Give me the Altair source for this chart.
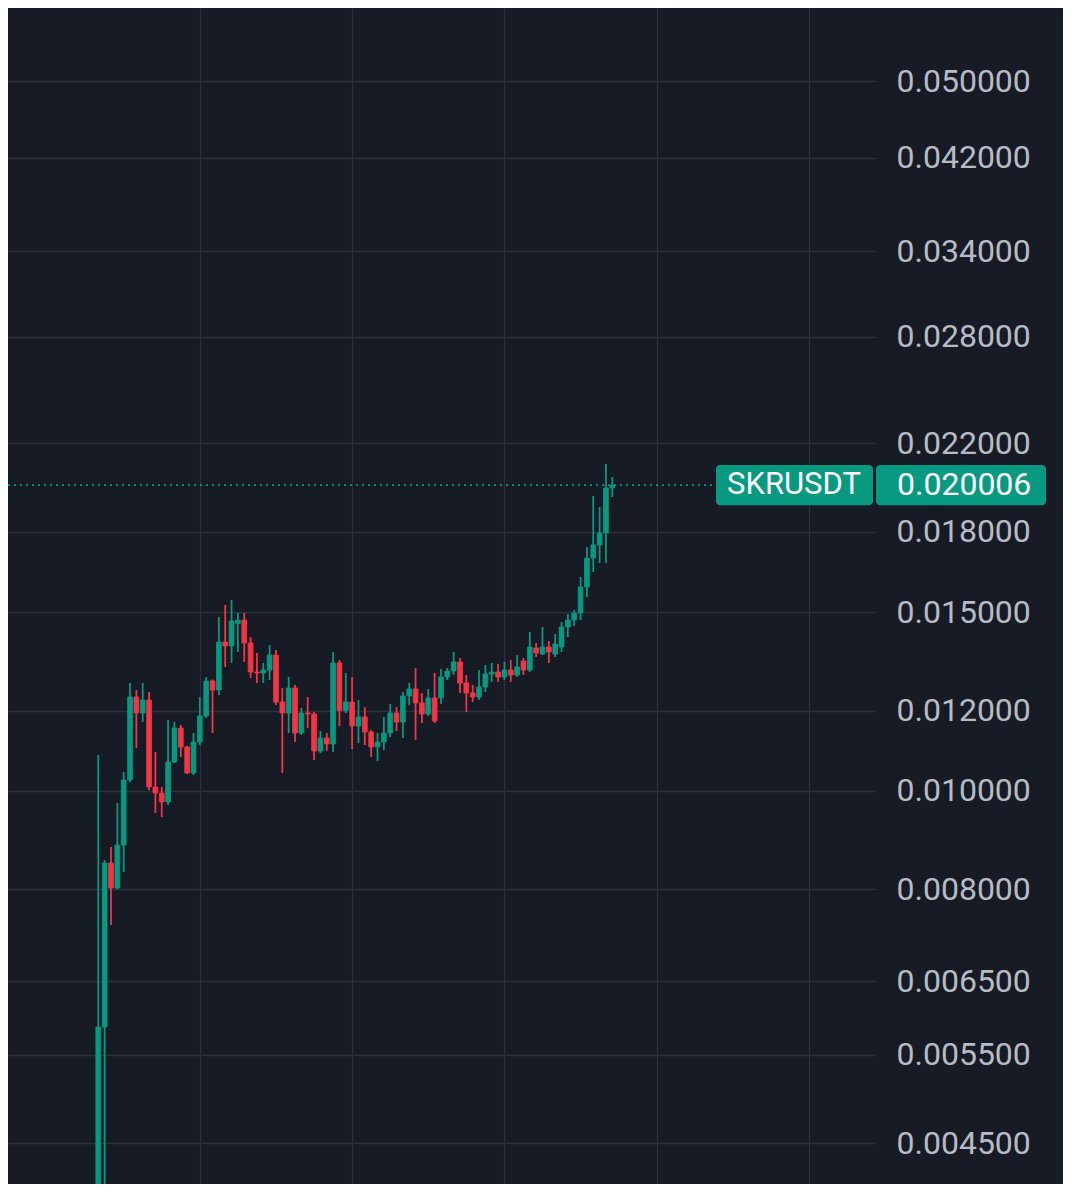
import altair as alt
import pandas as pd

# ---- data ----
symbol = "SKRUSDT"

opens = [
    0.0036, 0.005856, 0.008494, 0.008026, 0.008848, 0.010253, 0.012375, 0.011934, 0.012291, 0.010091,
    0.009955, 0.009754, 0.010679, 0.011535, 0.011049, 0.010416, 0.011175, 0.011853, 0.012832, 0.012573,
    0.014018, 0.013892, 0.01462, 0.01473, 0.013987, 0.013097, 0.013067, 0.013156, 0.013611, 0.012236,
    0.011934, 0.01263, 0.011405, 0.011934, 0.011907, 0.010949, 0.011277, 0.011124, 0.013367, 0.0120,
    0.012236, 0.011588, 0.011827, 0.011431, 0.011049, 0.011175, 0.011405, 0.011934, 0.011693, 0.012403,
    0.012601, 0.012208, 0.011907, 0.012347, 0.01235, 0.012949, 0.013126, 0.013398, 0.012774, 0.012488,
    0.012375, 0.012659, 0.013037, 0.013097, 0.012949, 0.013156, 0.013008, 0.013428, 0.013156, 0.013829,
    0.013642, 0.01386, 0.013642, 0.01386, 0.014503, 0.014735, 0.014971, 0.01588, 0.01696, 0.017468,
    0.017949, 0.019876,
]
closes = [
    0.005856, 0.008494, 0.008026, 0.008848, 0.010253, 0.012375, 0.011934, 0.012291, 0.010091, 0.009955,
    0.009754, 0.010679, 0.011535, 0.011049, 0.010416, 0.011175, 0.011853, 0.012832, 0.012573, 0.014018,
    0.013892, 0.014702, 0.01473, 0.013987, 0.013097, 0.013067, 0.013156, 0.013611, 0.012236, 0.011934,
    0.01263, 0.011405, 0.011934, 0.011907, 0.010949, 0.011277, 0.011124, 0.013367, 0.0120, 0.012236,
    0.011588, 0.011827, 0.011431, 0.011049, 0.011175, 0.011405, 0.011934, 0.011693, 0.012403, 0.012601,
    0.012208, 0.011907, 0.012347, 0.01172, 0.012949, 0.013126, 0.013398, 0.012774, 0.012488, 0.012375,
    0.012659, 0.013037, 0.013097, 0.012949, 0.013156, 0.013008, 0.013246, 0.013156, 0.01386, 0.013673,
    0.01386, 0.013704, 0.013955, 0.014503, 0.014735, 0.014971, 0.01588, 0.01696, 0.017468, 0.017949,
    0.019876, 0.020006,
]
highs = [
    0.01085, 0.008552, 0.008808, 0.009732, 0.01044, 0.012774, 0.012573, 0.012774, 0.012516, 0.010924,
    0.010091, 0.011747, 0.011693, 0.011614, 0.01108, 0.011405, 0.012375, 0.012949, 0.01288, 0.014836,
    0.015245, 0.015419, 0.014971, 0.014971, 0.014178, 0.013673, 0.013367, 0.013924, 0.013766, 0.01263,
    0.012949, 0.012716, 0.012071, 0.012375, 0.01196, 0.011457, 0.011405, 0.013704, 0.013458, 0.013067,
    0.012949, 0.012291, 0.012098, 0.01148, 0.011405, 0.011827, 0.01218, 0.012098, 0.012516, 0.012774,
    0.013216, 0.012488, 0.012601, 0.013067, 0.013186, 0.013216, 0.013704, 0.013519, 0.013008, 0.012716,
    0.013156, 0.013306, 0.013367, 0.013337, 0.013398, 0.013458, 0.013611, 0.013519, 0.01434, 0.013987,
    0.014503, 0.01405, 0.014275, 0.014669, 0.014937, 0.015073, 0.016244, 0.017388, 0.019519, 0.019038,
    0.020988, 0.020377,
]
lows = [
    0.0034, 0.0038, 0.00738, 0.0080, 0.008323, 0.0102, 0.011024, 0.011693, 0.010023, 0.009513,
    0.009428, 0.009688, 0.010655, 0.010801, 0.010393, 0.010369, 0.011099, 0.0118, 0.011405, 0.012431,
    0.013246, 0.013367, 0.013704, 0.013398, 0.01292, 0.012774, 0.012774, 0.012861, 0.012153, 0.010416,
    0.011405, 0.011175, 0.011354, 0.011535, 0.010728, 0.010899, 0.010949, 0.010924, 0.011588, 0.011934,
    0.010999, 0.01115, 0.011099, 0.010801, 0.010704, 0.010976, 0.011301, 0.011457, 0.011277, 0.012153,
    0.011226, 0.011667, 0.011853, 0.011667, 0.01218, 0.012861, 0.013008, 0.012488, 0.011961, 0.012236,
    0.012291, 0.012516, 0.012803, 0.012803, 0.012861, 0.012803, 0.012949, 0.013008, 0.013097, 0.01355,
    0.013611, 0.013367, 0.01355, 0.013704, 0.014178, 0.014537, 0.014735, 0.015524, 0.016429, 0.016768,
    0.016768, 0.019474,
]
price_ticks = [0.0045, 0.0055, 0.0065, 0.008, 0.010, 0.012, 0.015, 0.018,
               0.022, 0.028, 0.034, 0.042, 0.050, 0.060]
time_grid = [16, 40, 64, 88, 112]

# ---- styling ----
BG = "#171b26"
GRID = "#2d313d"
UP = "#089981"
DOWN = "#f23645"
LABEL = "#b8bbc4"
FONT = "Roboto"
FS = 32

df = pd.DataFrame({
    "i": list(range(len(opens))),
    "open": opens, "high": highs, "low": lows, "close": closes,
})
df["dir"] = ["up" if c >= o else "down" for o, c in zip(opens, closes)]

last_price = closes[-1]
last_df = pd.DataFrame({"price": [last_price], "symbol": [symbol],
                        "label": [f"{last_price:.6f}"]})

x_scale = alt.Scale(domain=[-13.44, 121.61], nice=False, zero=False)
y_scale = alt.Scale(type="log", domain=[0.0041026, 0.05901], nice=False)
cscale = alt.Scale(domain=["up", "down"], range=[UP, DOWN])

x_axis = alt.Axis(values=time_grid, grid=True, gridColor=GRID, gridWidth=1.3,
                  labels=False, ticks=False, domain=False, title=None)
y_axis = alt.Axis(orient="right", values=price_ticks, format=".6f",
                  grid=True, gridColor=GRID, gridWidth=1.3,
                  ticks=False, domain=False, title=None,
                  labelFont=FONT, labelFontSize=FS, labelColor=LABEL,
                  labelPadding=21, labelAlign="left", labelBaseline="middle",
                  labelOverlap=False, labelBound=False)

wicks = alt.Chart(df).mark_rule(strokeWidth=1.8, clip=True).encode(
    x=alt.X("i:Q", scale=x_scale, axis=x_axis),
    y=alt.Y("low:Q", scale=y_scale, axis=y_axis),
    y2="high:Q",
    color=alt.Color("dir:N", scale=cscale, legend=None),
)

bodies = alt.Chart(df).mark_bar(width=4.8, clip=True, strokeWidth=0.8).encode(
    x=alt.X("i:Q", scale=x_scale, axis=x_axis),
    y=alt.Y("open:Q", scale=y_scale, axis=y_axis),
    y2="close:Q",
    color=alt.Color("dir:N", scale=cscale, legend=None),
    stroke=alt.Stroke("dir:N", scale=cscale, legend=None),
)

base_last = alt.Chart(last_df).transform_calculate(
    lo="datum.price / 1.0464", hi="datum.price * 1.0464")

dotted = base_last.mark_rule(color=UP, strokeDash=[2, 4], strokeWidth=1.6).encode(
    x=alt.value(0), x2=alt.value(708),
    y=alt.Y("price:Q", scale=y_scale, axis=y_axis),
)
box_sym = base_last.mark_rect(color=UP, cornerRadius=4).encode(
    x=alt.value(708), x2=alt.value(865),
    y=alt.Y("lo:Q", scale=y_scale, axis=y_axis), y2="hi:Q",
)
box_price = base_last.mark_rect(color=UP, cornerRadius=4).encode(
    x=alt.value(868), x2=alt.value(1038),
    y=alt.Y("lo:Q", scale=y_scale, axis=y_axis), y2="hi:Q",
)
txt_sym = base_last.mark_text(font=FONT, fontSize=FS - 1, color="#ffffff",
                              align="center", baseline="middle").encode(
    x=alt.value(786), y=alt.Y("price:Q", scale=y_scale, axis=y_axis), text="symbol:N")
txt_price = base_last.mark_text(font=FONT, fontSize=FS, color="#ffffff",
                                align="left", baseline="middle").encode(
    x=alt.value(889), y=alt.Y("price:Q", scale=y_scale, axis=y_axis), text="label:N")

chart = alt.layer(wicks, bodies, dotted, box_sym, box_price, txt_sym, txt_price).properties(
    width=867, height=1176, background=BG,
    padding={"left": 0, "top": 0, "right": 188, "bottom": 0},
    autosize=alt.AutoSizeParams(type="none"),
).configure_view(stroke=None)

chart.save("out.html", embed_options={"renderer": "svg", "actions": False})
